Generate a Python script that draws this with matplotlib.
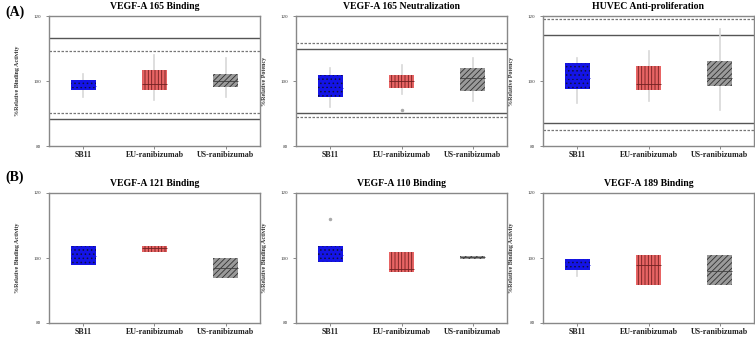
import matplotlib
matplotlib.use('Agg')
import matplotlib.pyplot as plt

plt.rcParams['font.family'] = ['Liberation Serif', 'DejaVu Serif']
plt.rcParams['hatch.linewidth'] = 0.6

# grupos e cores
grupos = ['SB11', 'EU-ranibizumab', 'US-ranibizumab']
cores = ['#1414e6', '#e86464', '#9a9a9a']
hachuras = ['....', '|||||', '//////']
cor_hachura = ['#101040', '#702020', '#303030']
cor_mediana = ['#1414e6', '#702020', '#404040']

titulos = ['VEGF-A 165 Binding', 'VEGF-A 165 Neutralization', 'HUVEC Anti-proliferation',
           'VEGF-A 121 Binding', 'VEGF-A 110 Binding', 'VEGF-A 189 Binding']
rotulos_y = ['%Relative Binding Activity', '%Relative Potency', '%Relative Potency',
             '%Relative Binding Activity', '%Relative Binding Activity', '%Relative Binding Activity']

# estatisticas por painel: [SB11, EU, US]
q1 = [[97.2, 97.1, 98.1], [95.0, 97.9, 97.0], [97.6, 97.2, 98.5],
      [97.9, 101.7, 93.8], [98.7, 95.6, 99.6], [96.2, 91.6, 91.6]]
med = [[98.5, 99.1, 100.0], [98.0, 100.0, 101.0], [101.0, 99.0, 101.0],
       [100.5, 103.0, 97.0], [101.0, 96.5, 100.2], [98.0, 97.8, 96.0]]
q3 = [[100.2, 103.5, 102.3], [101.9, 101.9, 103.9], [105.6, 104.6, 106.2],
      [103.8, 103.8, 100.0], [103.6, 101.7, 100.7], [99.8, 100.8, 100.8]]
whis_lo = [[95.2, 94.1, 95.2], [92.0, 96.1, 94.0], [93.1, 94.0, 91.1],
           [97.9, 101.7, 93.8], [98.7, 95.6, 99.6], [94.6, 91.6, 91.6]]
whis_hi = [[102.1, 108.1, 107.1], [104.0, 105.0, 107.0], [107.1, 109.1, 116.1],
           [103.8, 103.8, 100.0], [103.6, 101.7, 100.7], [99.8, 100.8, 100.8]]
outliers = [[[], [], []], [[], [91.1], []], [[], [], []],
            [[], [], []], [[112.0], [], []], [[], [], []]]

# limites de equivalencia (linha cheia) e faixa de qualidade (tracejada)
lim_cheio = [[88.2, 113.2], [90.1, 110.0], [87.0, 114.2], [], [], []]
lim_tracejado = [[90.1, 109.1], [89.0, 111.8], [84.9, 119.2], [], [], []]

fig = plt.figure(figsize=(7.55, 3.37), dpi=100)

lefts = [49 / 755, 296 / 755, 543 / 755]
bottoms = [1 - 146 / 337, 1 - 323 / 337]
w = 211 / 755
h = 130 / 337

for k in range(6):
    ax = fig.add_axes([lefts[k % 3], bottoms[k // 3], w, h])
    stats = []
    for i in range(3):
        stats.append({'q1': q1[k][i], 'med': med[k][i], 'q3': q3[k][i],
                      'whislo': whis_lo[k][i], 'whishi': whis_hi[k][i],
                      'fliers': outliers[k][i]})
    bp = ax.bxp(stats, positions=[1, 2, 3], widths=0.35, patch_artist=True,
                showcaps=False, manage_ticks=False,
                whiskerprops=dict(color='#d8d8d8', lw=1.2),
                flierprops=dict(marker='o', ms=1.5, mfc='#aaaaaa', mec='#aaaaaa'),
                boxprops=dict(lw=0))
    for i, caixa in enumerate(bp['boxes']):
        caixa.set_facecolor(cores[i])
        caixa.set_edgecolor(cor_hachura[i])
        caixa.set_linewidth(0)
        caixa.set_hatch(hachuras[i])
        caixa.set_zorder(3)
    for i, m in enumerate(bp['medians']):
        m.set_color(cor_mediana[i])
        m.set_linewidth(0.6)
        m.set_zorder(4)

    for v in lim_cheio[k]:
        ax.axhline(v, color='#555555', lw=1.0, zorder=1)
    for v in lim_tracejado[k]:
        ax.axhline(v, color='#777777', lw=0.9, ls=(0, (2, 1.2)), zorder=1)

    ax.set_xlim(0.52, 3.48)
    ax.set_ylim(80, 120)
    ax.set_yticks([80, 100, 120])
    ax.set_xticks([1, 2, 3])
    ax.set_xticklabels(grupos, fontsize=5.8, fontweight='bold')
    ax.tick_params(axis='y', labelsize=3.6, length=2, width=0.6, colors='#777777', labelcolor='#333333')
    ax.tick_params(axis='x', length=2, width=0.6, colors='#777777', labelcolor='#222222', pad=1.5)
    ax.set_ylabel(rotulos_y[k], fontsize=4.3, fontweight='bold', labelpad=10, color='#333333')
    ax.set_title(titulos[k], fontsize=7, fontweight='bold', pad=5)
    for s in ax.spines.values():
        s.set_color('#888888')
        s.set_linewidth(1.0)

fig.text(0.007, 0.985, '(A)', fontsize=10, fontweight='bold', va='top')
fig.text(0.007, 0.495, '(B)', fontsize=10, fontweight='bold', va='top')

fig.savefig('out.png', dpi=100)
